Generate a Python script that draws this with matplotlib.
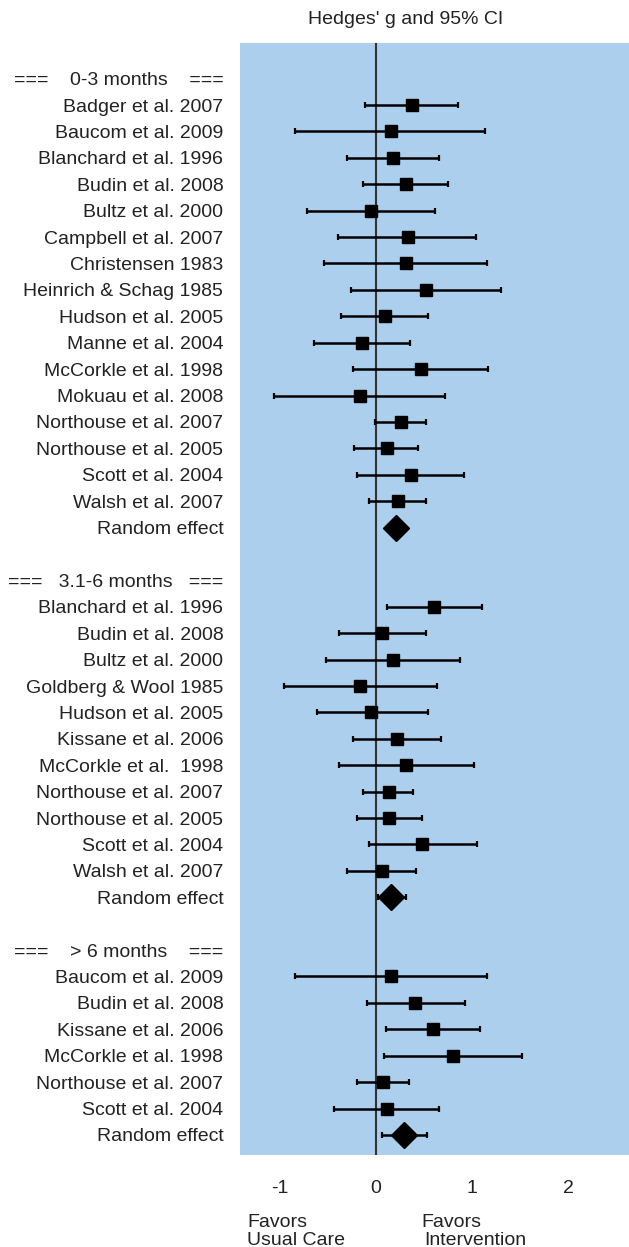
import matplotlib
matplotlib.use("Agg")
import matplotlib.pyplot as plt

plt.rcParams['font.family'] = ['Liberation Sans', 'DejaVu Sans']

# group headers
headers = ["===    0-3 months    ===",
           "===   3.1-6 months   ===",
           "===    > 6 months    ==="]

# 0-3 months
names_1 = ["Badger et al. 2007", "Baucom et al. 2009", "Blanchard et al. 1996",
           "Budin et al. 2008", "Bultz et al. 2000", "Campbell et al. 2007",
           "Christensen 1983", "Heinrich & Schag 1985", "Hudson et al. 2005",
           "Manne et al. 2004", "McCorkle et al. 1998", "Mokuau et al. 2008",
           "Northouse et al. 2007", "Northouse et al. 2005", "Scott et al. 2004",
           "Walsh et al. 2007"]
g_1 = [0.37, 0.16, 0.18, 0.31, -0.05, 0.33, 0.31, 0.52, 0.09, -0.15, 0.47, -0.17,
       0.26, 0.11, 0.36, 0.23]
lo_1 = [-0.11, -0.84, -0.30, -0.14, -0.72, -0.40, -0.54, -0.26, -0.37, -0.65, -0.24,
        -1.06, -0.01, -0.23, -0.20, -0.07]
hi_1 = [0.85, 1.14, 0.66, 0.75, 0.61, 1.04, 1.16, 1.30, 0.54, 0.35, 1.17, 0.72,
        0.52, 0.44, 0.92, 0.52]
re_1 = (0.21, 0.11, 0.30)

# 3.1-6 months
names_2 = ["Blanchard et al. 1996", "Budin et al. 2008", "Bultz et al. 2000",
           "Goldberg & Wool 1985", "Hudson et al. 2005", "Kissane et al. 2006",
           "McCorkle et al.  1998", "Northouse et al. 2007", "Northouse et al. 2005",
           "Scott et al. 2004", "Walsh et al. 2007"]
g_2 = [0.60, 0.06, 0.18, -0.17, -0.05, 0.22, 0.31, 0.13, 0.14, 0.48, 0.06]
lo_2 = [0.11, -0.39, -0.52, -0.96, -0.62, -0.24, -0.39, -0.14, -0.20, -0.07, -0.30]
hi_2 = [1.10, 0.52, 0.87, 0.64, 0.54, 0.68, 1.02, 0.39, 0.48, 1.05, 0.42]
re_2 = (0.16, 0.02, 0.31)

# > 6 months
names_3 = ["Baucom et al. 2009", "Budin et al. 2008", "Kissane et al. 2006",
           "McCorkle et al. 1998", "Northouse et al. 2007", "Scott et al. 2004"]
g_3 = [0.16, 0.41, 0.59, 0.80, 0.07, 0.11]
lo_3 = [-0.84, -0.09, 0.10, 0.08, -0.20, -0.44]
hi_3 = [1.16, 0.93, 1.08, 1.52, 0.34, 0.66]
re_3 = (0.29, 0.06, 0.53)

groups = [(names_1, g_1, lo_1, hi_1, re_1),
          (names_2, g_2, lo_2, hi_2, re_2),
          (names_3, g_3, lo_3, hi_3, re_3)]

fig = plt.figure(figsize=(6.29, 12.47), dpi=100)
W, H = 629, 1247
ax = fig.add_axes([240 / W, (H - 1155) / H, (W - 240) / W, (1155 - 43) / H])
ax.set_facecolor('#accfed')

labels, pos = [], []
row = 0
for gi, (names, g, lo, hi, re) in enumerate(groups):
    labels.append(headers[gi]); pos.append(row)
    row += 1
    ys = list(range(row, row + len(names)))
    ax.errorbar(g, ys, xerr=[[a - b for a, b in zip(g, lo)], [c - a for a, c in zip(g, hi)]],
                fmt='s', color='black', ms=8.8, mec='black', elinewidth=1.8,
                capsize=2.5, capthick=1.6, zorder=3)
    labels += names; pos += ys
    row += len(names)
    # pooled estimate
    ax.errorbar([re[0]], [row], xerr=[[re[0] - re[1]], [re[2] - re[0]]],
                fmt='D', color='black', ms=13, mec='black', elinewidth=1.8,
                capsize=2.5, capthick=1.6, zorder=3)
    labels.append("Random effect"); pos.append(row)
    row += 2

ax.axvline(0, color='#333333', lw=1.5, zorder=2)

ax.set_xlim(-1.417, 2.635)
ax.set_ylim(40.76, -1.35)
ax.set_xticks([-1, 0, 1, 2])
ax.set_xticklabels(['-1', '0', '1', '2'])
ax.set_yticks(pos)
ax.set_yticklabels(labels)
ax.tick_params(axis='both', length=0, labelsize=14, colors='#222222')
ax.tick_params(axis='y', pad=12)
ax.tick_params(axis='x', pad=18)
for s in ax.spines.values():
    s.set_visible(False)

fig.text(406 / W, 1 - 19 / H, "Hedges' g and 95% CI", ha='center', va='center',
         fontsize=14, color='#222222')
fig.text(247 / W, 1 - 1227 / H, "Favors", ha='left', va='baseline', fontsize=14, color='#222222')
fig.text(247 / W, 1 - 1245 / H, "Usual Care", ha='left', va='baseline', fontsize=14, color='#222222')
fig.text(421 / W, 1 - 1227 / H, "Favors", ha='left', va='baseline', fontsize=14, color='#222222')
fig.text(424 / W, 1 - 1245 / H, "Intervention", ha='left', va='baseline', fontsize=14, color='#222222')

fig.savefig("out.png", dpi=100, facecolor='white')
